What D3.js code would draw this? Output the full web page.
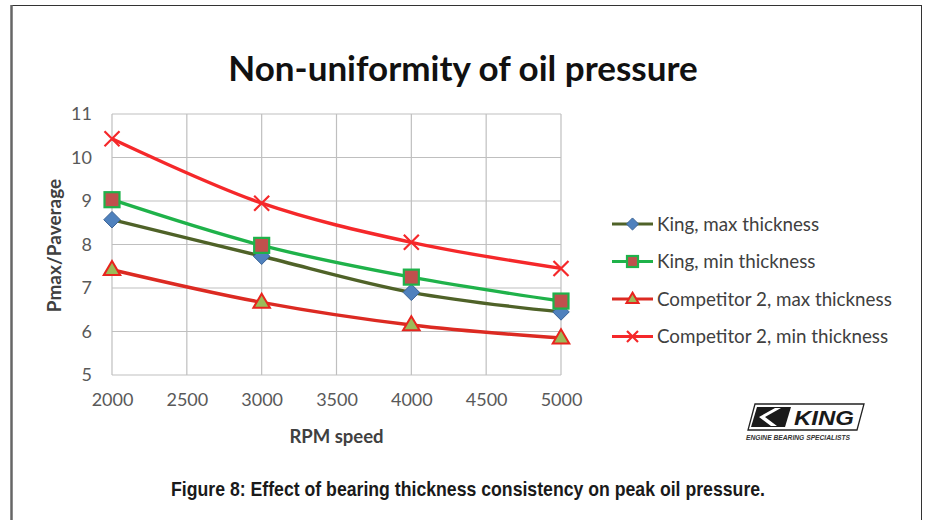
<!DOCTYPE html>
<html>
<head>
<meta charset="utf-8">
<script src="https://cdn.jsdelivr.net/npm/d3@7/dist/d3.min.js"></script>
<style>
  html, body { margin: 0; padding: 0; background: #fff; }
  svg { display: block; }
</style>
</head>
<body>
<svg id="chart" width="926" height="520"></svg>
<script>
// RPM values along the x axis
const rpm = [2000, 3000, 4000, 5000];
// Pmax / Paverage ratio for each bearing configuration
const kingMax  = [8.57, 7.73, 6.90, 6.45];
const kingMin  = [9.03, 7.98, 7.25, 6.70];
const comp2Max = [7.42, 6.67, 6.15, 5.85];
const comp2Min = [10.43, 8.95, 8.05, 7.45];
const seriesNames = [
  "King, max thickness",
  "King, min thickness",
  "Competitor 2, max thickness",
  "Competitor 2, min thickness"
];
const xTicks = [2000, 2500, 3000, 3500, 4000, 4500, 5000];
const yTicks = [5, 6, 7, 8, 9, 10, 11];

const titleText = "Non-uniformity of oil pressure";
const xTitle = "RPM speed";
const yTitle = "Pmax/Paverage";
const caption = "Figure 8: Effect of bearing thickness consistency on peak oil pressure.";

const series = [
  { name: seriesNames[0], values: kingMax,  line: "#4f6228", marker: "diamond",  fill: "#4f81bd", stroke: "#3a6396" },
  { name: seriesNames[1], values: kingMin,  line: "#1fb24a", marker: "square",   fill: "#c0504d", stroke: "#1fb24a" },
  { name: seriesNames[2], values: comp2Max, line: "#dc2a22", marker: "triangle", fill: "#9bbb59", stroke: "#e8241e" },
  { name: seriesNames[3], values: comp2Min, line: "#f5282a", marker: "cross",    fill: "none",    stroke: "#f5282a" }
];

const svg = d3.select("#chart");
const font = "Lato, 'Open Sans', sans-serif";

// Frame around the figure
svg.append("rect").attr("x", 11.5).attr("y", 5.5).attr("width", 910).attr("height", 540)
  .attr("fill", "#fff").attr("stroke", "#333").attr("stroke-width", 1);
svg.append("line").attr("x1", 11.5).attr("x2", 11.5).attr("y1", 5).attr("y2", 520)
  .attr("stroke", "#666").attr("stroke-width", 2.5);

const plot = { left: 112, right: 561, top: 114, bottom: 375 };
const x = d3.scaleLinear().domain([2000, 5000]).range([plot.left, plot.right]);
const y = d3.scaleLinear().domain([5, 11]).range([plot.bottom, plot.top]);

// Title
svg.append("text").attr("x", 463).attr("y", 81).attr("text-anchor", "middle")
  .attr("font-family", font).attr("font-weight", "bold").attr("font-size", 35)
  .attr("fill", "#111").text(titleText);

// Gridlines
const grid = svg.append("g").attr("stroke", "#bfbfbf").attr("stroke-width", 1.2);
grid.selectAll("line.v").data(xTicks).join("line").attr("class", "v")
  .attr("x1", d => x(d)).attr("x2", d => x(d)).attr("y1", plot.top).attr("y2", plot.bottom);
grid.selectAll("line.h").data(yTicks).join("line").attr("class", "h")
  .attr("x1", plot.left).attr("x2", plot.right).attr("y1", d => y(d)).attr("y2", d => y(d));

// Axes (labels only, grid carries the lines)
const xAxis = svg.append("g").attr("transform", `translate(0,${plot.bottom + 18})`)
  .call(d3.axisBottom(x).tickValues(xTicks).tickFormat(d3.format("d")).tickSize(0).tickPadding(0));
const yAxis = svg.append("g").attr("transform", `translate(${plot.left - 20},0)`)
  .call(d3.axisLeft(y).tickValues(yTicks).tickFormat(d3.format("d")).tickSize(0).tickPadding(0));
[xAxis, yAxis].forEach(a => {
  a.select(".domain").remove();
  a.selectAll("text").attr("font-family", font).attr("font-size", 18).attr("fill", "#595959");
});
xAxis.selectAll("text").attr("dy", "0.71em");

// Axis titles
svg.append("text").attr("x", (plot.left + plot.right) / 2).attr("y", 443).attr("text-anchor", "middle")
  .attr("font-family", font).attr("font-weight", "bold").attr("font-size", 18.5).attr("fill", "#404040")
  .text(xTitle);
svg.append("text").attr("transform", `translate(61,${(plot.top + plot.bottom) / 2 + 1}) rotate(-90)`)
  .attr("text-anchor", "middle").attr("font-family", font).attr("font-weight", "bold")
  .attr("font-size", 19).attr("fill", "#404040").text(yTitle);

// Marker drawing
function drawMarker(g, type, s, size) {
  if (type === "diamond") {
    const r = size * 0.55;
    g.append("path").attr("d", `M0,${-r}L${r},0L0,${r}L${-r},0Z`)
      .attr("fill", s.fill).attr("stroke", s.stroke).attr("stroke-width", 1);
  } else if (type === "square") {
    const h = size * 0.5;
    g.append("rect").attr("x", -h).attr("y", -h).attr("width", 2 * h).attr("height", 2 * h)
      .attr("fill", s.fill).attr("stroke", s.stroke).attr("stroke-width", 2.2);
  } else if (type === "triangle") {
    const r = size * 0.58;
    g.append("path").attr("d", `M0,${-r}L${r * 0.95},${r * 0.62}L${-r * 0.95},${r * 0.62}Z`)
      .attr("fill", s.fill).attr("stroke", s.stroke).attr("stroke-width", 2);
  } else if (type === "cross") {
    const r = size * 0.5;
    g.append("path").attr("d", `M${-r},${-r}L${r},${r}M${-r},${r}L${r},${-r}`)
      .attr("stroke", s.stroke).attr("stroke-width", 2.2).attr("fill", "none");
  }
}

// Smoothed series lines with markers
const line = d3.line().x(d => x(d[0])).y(d => y(d[1])).curve(d3.curveCatmullRom.alpha(0.5));
series.forEach(s => {
  const pts = rpm.map((r, i) => [r, s.values[i]]);
  const g = svg.append("g");
  g.append("path").datum(pts).attr("d", line).attr("fill", "none")
    .attr("stroke", s.line).attr("stroke-width", 3.4).attr("stroke-linejoin", "round");
  pts.forEach(p => {
    const m = g.append("g").attr("transform", `translate(${x(p[0])},${y(p[1])})`);
    drawMarker(m, s.marker, s, 15);
  });
});

// Legend
const legend = svg.append("g").attr("transform", "translate(612,224)");
series.forEach((s, i) => {
  const row = legend.append("g").attr("transform", `translate(0,${i * 37.5})`);
  row.append("line").attr("x1", 0).attr("x2", 41).attr("y1", 0).attr("y2", 0)
    .attr("stroke", s.line).attr("stroke-width", 3);
  const m = row.append("g").attr("transform", "translate(20.5,0)");
  drawMarker(m, s.marker, s, 11);
  row.append("text").attr("x", 45).attr("y", 0).attr("dy", "0.35em")
    .attr("font-family", font).attr("font-size", 18.8).attr("fill", "#404040").text(s.name);
});

// Brand mark
const logo = svg.append("g").attr("transform", "translate(748,404)");
logo.append("path").attr("d", "M7,0L116,0L109,26L0,26Z").attr("fill", "#fff").attr("stroke", "#222").attr("stroke-width", 1.3);
logo.append("path").attr("d", "M9,3L43,3L37,23L3,23Z").attr("fill", "#1a1a1a");
logo.append("path").attr("d", "M33,4L17,13L29,22L23,22L11,13L27,4Z").attr("fill", "#fff");
logo.append("text").attr("x", 76).attr("y", 21).attr("text-anchor", "middle")
  .attr("font-family", "'Liberation Sans', Arial, sans-serif").attr("font-weight", "bold")
  .attr("font-style", "italic").attr("font-size", 21).attr("fill", "#1a1a1a")
  .attr("textLength", 60).attr("lengthAdjust", "spacingAndGlyphs").text("KING");
logo.append("text").attr("x", 50).attr("y", 36).attr("text-anchor", "middle")
  .attr("font-family", "'Liberation Sans', Arial, sans-serif").attr("font-weight", "bold")
  .attr("font-style", "italic").attr("font-size", 6.5).attr("fill", "#333")
  .attr("textLength", 104).attr("lengthAdjust", "spacingAndGlyphs").text("ENGINE BEARING SPECIALISTS");

// Caption
svg.append("text").attr("x", 468).attr("y", 496).attr("text-anchor", "middle")
  .attr("font-family", "'Liberation Sans Narrow', 'Liberation Sans', Arial, sans-serif")
  .attr("font-weight", "bold").attr("font-size", 21).attr("fill", "#1a1a1a")
  .attr("textLength", 594).attr("lengthAdjust", "spacingAndGlyphs").text(caption);
</script>
</body>
</html>
